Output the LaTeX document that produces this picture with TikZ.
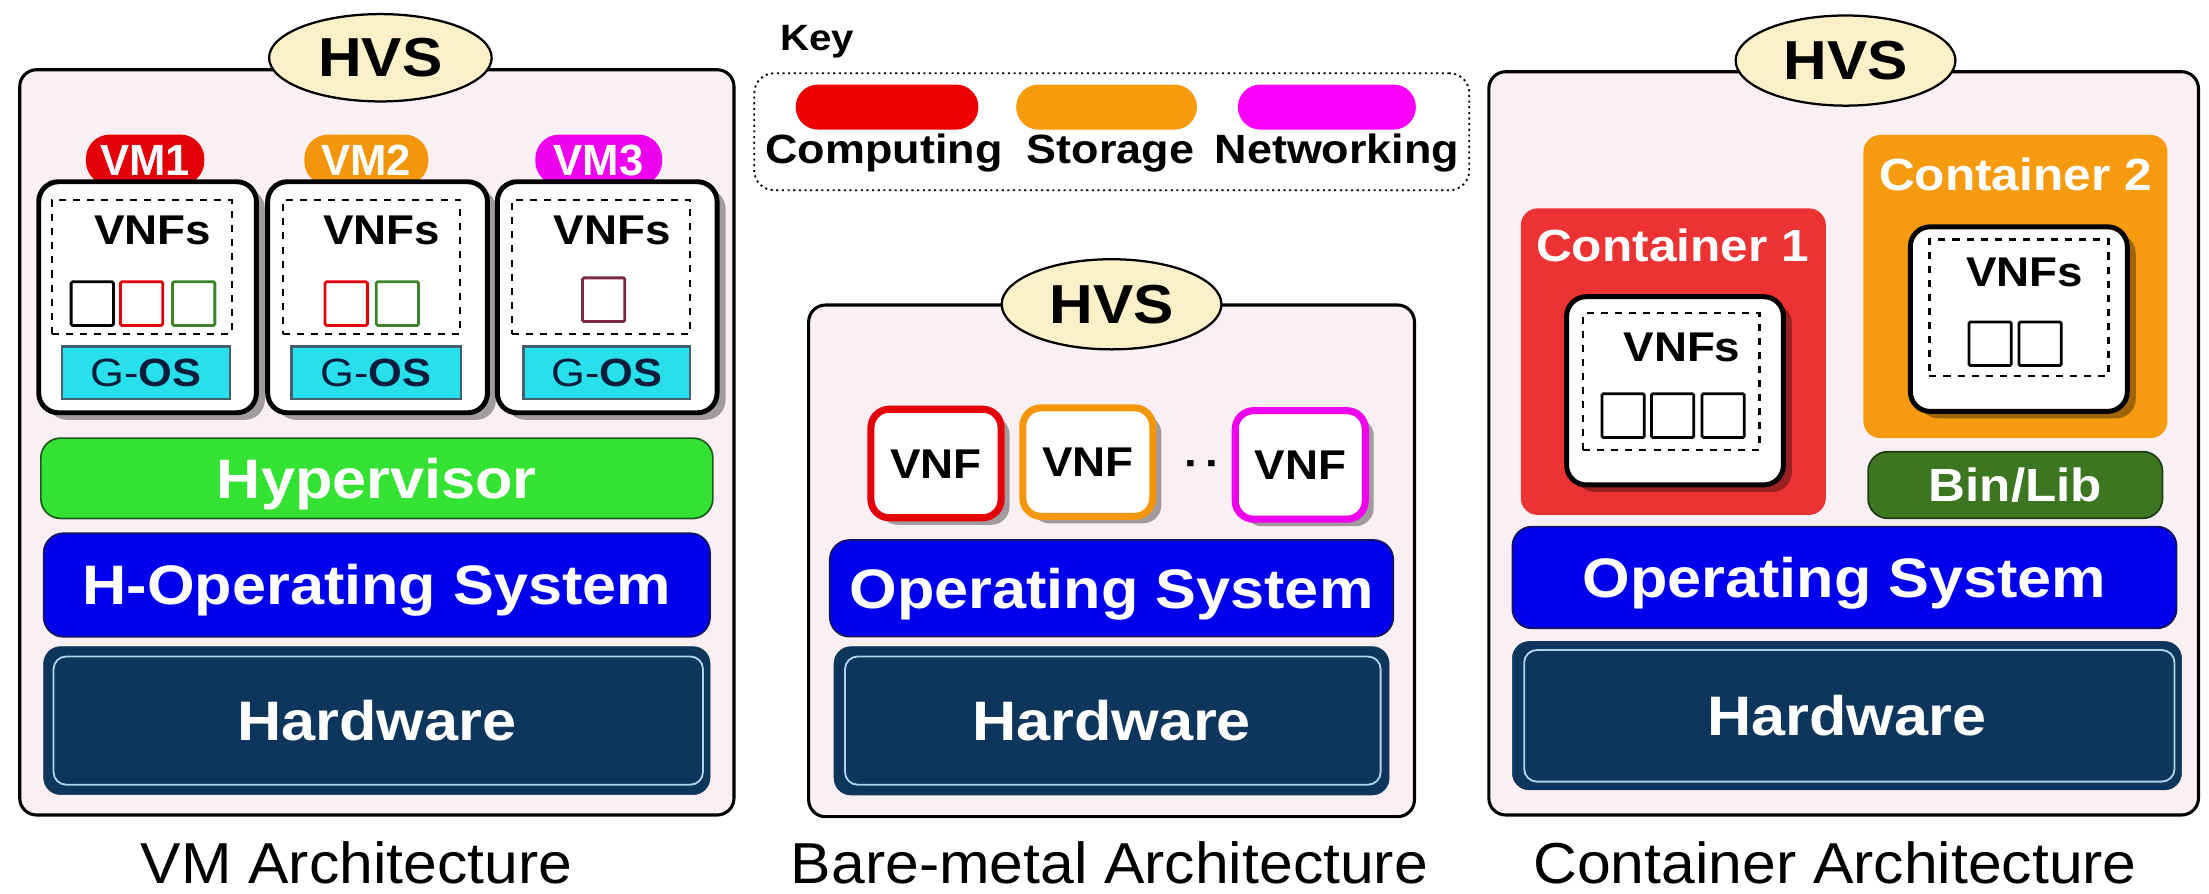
\documentclass[tikz,border=0pt]{standalone}
\usepackage{fontspec}
\setmainfont{Liberation Sans}
\newfontfamily\labfont{Liberation Sans}[FakeStretch=1.1]
\newfontfamily\capfont{Liberation Sans}[FakeStretch=1.05]
\usetikzlibrary{shapes.geometric,shadows}

\definecolor{panelpink}{RGB}{250,239,243}
\definecolor{cream}{RGB}{252,240,200}
\definecolor{vmred}{RGB}{228,0,8}
\definecolor{vmorange}{RGB}{244,150,12}
\definecolor{vmmagenta}{RGB}{238,0,238}
\definecolor{keyred}{RGB}{236,0,0}
\definecolor{keyorange}{RGB}{247,155,12}
\definecolor{keymagenta}{RGB}{250,0,250}
\definecolor{hypgreen}{RGB}{52,226,52}
\definecolor{hypedge}{RGB}{30,90,30}
\definecolor{osblue}{RGB}{0,0,236}
\definecolor{osedge}{RGB}{20,20,90}
\definecolor{hwnavy}{RGB}{14,54,92}
\definecolor{hwline}{RGB}{175,212,236}
\definecolor{goscyan}{RGB}{40,224,236}
\definecolor{gosedge}{RGB}{70,95,110}
\definecolor{gostext}{RGB}{10,30,60}
\definecolor{sqgreen}{RGB}{60,130,40}
\definecolor{sqmaroon}{RGB}{120,40,70}
\definecolor{conred}{RGB}{236,50,50}
\definecolor{conorange}{RGB}{246,155,15}
\definecolor{binlib}{RGB}{60,118,32}
\definecolor{binedge}{RGB}{30,60,20}

\newcommand\fbig{\labfont\bfseries\fontsize{39.5}{40}\selectfont}
\newcommand\fhvs{\labfont\bfseries\fontsize{39}{40}\selectfont}
\newcommand\fvnf{\labfont\bfseries\fontsize{29.5}{30}\selectfont}
\newcommand\fvm{\bfseries\fontsize{31}{32}\selectfont}
\newcommand\fgos{\labfont\fontsize{28}{30}\selectfont}
\newcommand\fkey{\labfont\bfseries\fontsize{29}{30}\selectfont}
\newcommand\fcon{\labfont\bfseries\fontsize{32}{34}\selectfont}
\newcommand\fbin{\labfont\bfseries\fontsize{33}{34}\selectfont}
\newcommand\fcap{\capfont\fontsize{41}{42}\selectfont}

\tikzset{
  every node/.style={inner sep=0pt, outer sep=0pt},
  sz/.style 2 args={minimum width=#1pt, minimum height=#2pt},
  panel/.style={rectangle, draw=black, line width=2.2pt, fill=panelpink, rounded corners=12pt},
  hvs/.style={ellipse, draw=black, line width=1.6pt, fill=cream, font=\fhvs},
  pill/.style={rectangle, rounded corners=17pt, text=white, font=\fvm, text height=22.2pt, text depth=0pt},
  shade/.style={drop shadow={shadow xshift=6pt, shadow yshift=-5pt, fill=black, opacity=0.35}},
  vmbox/.style={rectangle, draw=black, line width=3.5pt, fill=white, rounded corners=14pt, shade},
  dashbox/.style={rectangle, draw=black, line width=1.6pt, dash pattern=on 5pt off 5pt},
  vnflbl/.style={font=\fvnf, anchor=base},
  sq/.style={rectangle, line width=2pt, fill=white, rounded corners=1pt, minimum width=30pt, minimum height=31pt},
  gos/.style={rectangle, draw=gosedge, line width=1.6pt, fill=goscyan, text=gostext, font=\fgos, text height=20pt, text depth=0pt},
  bar/.style={rectangle, rounded corners=14pt, line width=1.2pt, text=white, font=\fbig, text height=28.3pt, text depth=0pt},
  hw/.style={rectangle, rounded corners=12pt, fill=hwnavy, draw=hwnavy, text=white, font=\fbig, text height=28.3pt, text depth=0pt},
  hwin/.style={rectangle, rounded corners=9pt, draw=hwline, line width=1.3pt},
  capt/.style={font=\fcap, anchor=base},
  keypill/.style={rectangle, rounded corners=15.9pt, minimum height=32pt},
  keylbl/.style={font=\fkey, anchor=base},
  vnfbox/.style={rectangle, line width=5pt, fill=white, rounded corners=13pt, shade, font=\fvnf, text height=21pt, text depth=0pt},
  conbox/.style={rectangle, rounded corners=12pt},
  conlbl/.style={font=\fcon, text=white, anchor=base},
}

\begin{document}
\begin{tikzpicture}[x=1pt,y=-1pt]
\path[use as bounding box, fill=white] (0,0) rectangle (1568,634);

% ---------------- VM architecture ----------------
\node[panel, sz={507}{529}] (vmpanel) at (267.5,314) {};
\node[hvs, sz={158}{62}] (vmhvs) at (270,41) {HVS};

\node[pill, fill=vmred, sz={84}{36}] (vm1tag) at (103,113.5) {VM1};
\node[pill, fill=vmorange, sz={88}{36}] (vm2tag) at (260,113.5) {VM2};
\node[pill, fill=vmmagenta, sz={90}{36}] (vm3tag) at (425,113.5) {VM3};

\node[vmbox, sz={154.5}{164}] (vm1) at (104.75,211) {};
\node[vmbox, sz={156}{164}] (vm2) at (268,211) {};
\node[vmbox, sz={156}{164}] (vm3) at (431,211) {};

\node[dashbox, sz={127.5}{95}] (vm1dash) at (100.75,189.5) {};
\node[dashbox, sz={126}{95}] (vm2dash) at (263.7,189.5) {};
\node[dashbox, sz={126.4}{95}] (vm3dash) at (426.8,189.5) {};

\node[vnflbl] (vm1vnfs) at (108.5,173.5) {VNFs};
\node[vnflbl] (vm2vnfs) at (270.8,173.5) {VNFs};
\node[vnflbl] (vm3vnfs) at (434.5,173.5) {VNFs};

\node[sq, draw=black] (vm1sqa) at (65.5,215.5) {};
\node[sq, draw=vmred] (vm1sqb) at (100.5,215.5) {};
\node[sq, draw=sqgreen] (vm1sqc) at (137.5,215.5) {};
\node[sq, draw=vmred] (vm2sqa) at (245.75,215.5) {};
\node[sq, draw=sqgreen] (vm2sqb) at (282.1,215.5) {};
\node[sq, draw=sqmaroon] (vm3sqa) at (428.5,212.75) {};

\node[gos, sz={119}{37}] (vm1gos) at (103.5,264.5) {G-\textbf{OS}};
\node[gos, sz={120}{37}] (vm2gos) at (267,264.5) {G-\textbf{OS}};
\node[gos, sz={118.5}{37}] (vm3gos) at (430.75,264.5) {G-\textbf{OS}};

\node[bar, fill=hypgreen, draw=hypedge, sz={477}{57}] (hyp) at (267.5,339.5) {Hypervisor};
\node[bar, fill=osblue, draw=osedge, sz={473}{73.5}] (hos) at (267.5,415.25) {H-Operating System};
\node[hw, sz={473}{105}] (vmhw) at (267.5,511.5) {Hardware};
\node[hwin, sz={461}{91}] (vmhwin) at (268.5,511.5) {};

\node[capt] (vmcap) at (253,627) {VM Architecture};

% ---------------- Key ----------------
\node[font=\labfont\bfseries\fontsize{26}{27}\selectfont, anchor=base west] (keytitle) at (553.8,35.5) {Key};
\node[rectangle, draw=black, line width=1.3pt, dash pattern=on 1.5pt off 2.5pt, rounded corners=14pt, sz={507.5}{83}] (keybox) at (789.15,93.5) {};
\node[keypill, fill=keyred, minimum width=129.7pt] (keycomp) at (629.65,76) {};
\node[keypill, fill=keyorange, minimum width=128.3pt] (keystor) at (785.45,76) {};
\node[keypill, fill=keymagenta, minimum width=126.3pt] (keynet) at (941.85,76) {};
\node[keylbl] (keycomplbl) at (627.5,116) {Computing};
\node[keylbl] (keystorlbl) at (788.3,116) {Storage};
\node[keylbl] (keynetlbl) at (949,116) {Networking};

% ---------------- Bare-metal architecture ----------------
\node[panel, sz={430}{363.2}] (bmpanel) at (789,398.1) {};
\node[hvs, sz={156}{64}] (bmhvs) at (789,216) {HVS};

\node[vnfbox, draw=vmred, sz={92.4}{77}] (bmvnf1) at (664.4,329) {VNF};
\node[vnfbox, draw=vmorange, sz={92.3}{77}] (bmvnf2) at (772.15,328) {VNF};
\node[vnfbox, draw=vmmagenta, sz={92.3}{77}] (bmvnf3) at (922.95,330) {VNF};
\node[font=\fvnf, anchor=base] (bmdots) at (853.5,339) {\char"00B7\hspace{4pt}\char"00B7};

\node[bar, fill=osblue, draw=osedge, sz={400}{68.6}] (bmos) at (789,417.6) {Operating System};
\node[hw, sz={394}{105.3}] (bmhw) at (789,511.65) {Hardware};
\node[hwin, sz={380.2}{91}] (bmhwin) at (789.9,511.5) {};

\node[capt] (bmcap) at (787.5,627) {Bare-metal Architecture};

% ---------------- Container architecture ----------------
\node[panel, sz={503.7}{527.6}] (ctpanel) at (1308.65,314.7) {};
\node[hvs, sz={156}{64}] (cthvs) at (1310,43) {HVS};

\node[conbox, fill=conred, sz={216.5}{217.6}] (con1) at (1187.75,256.7) {};
\node[conlbl] (con1lbl) at (1187.2,185.7) {Container 1};
\node[vmbox, sz={153.9}{133.6}] (con1box) at (1188.95,277.4) {};
\node[dashbox, sz={125.3}{97}] (con1dash) at (1186.35,270.9) {};
\node[vnflbl] (con1vnfs) at (1193.9,256.7) {VNFs};
\node[sq, draw=black] (con1sqa) at (1152.1,295) {};
\node[sq, draw=black] (con1sqb) at (1187.25,295) {};
\node[sq, draw=black] (con1sqc) at (1223.15,295) {};

\node[conbox, fill=conorange, sz={215.8}{215.2}] (con2) at (1430.6,203.4) {};
\node[conlbl] (con2lbl) at (1430.6,134.9) {Container 2};
\node[vmbox, sz={154}{131}] (con2box) at (1433,226.5) {};
\node[dashbox, sz={127.2}{97}] (con2dash) at (1433.1,218.5) {};
\node[vnflbl] (con2vnfs) at (1437.3,203.5) {VNFs};
\node[sq, draw=black] (con2sqa) at (1412.65,244) {};
\node[sq, draw=black] (con2sqb) at (1448.1,244) {};

\node[bar, fill=binlib, draw=binedge, font=\fbin, text height=23.6pt, sz={209}{47.3}] (bin) at (1430.5,344.25) {Bin/Lib};
\node[bar, fill=osblue, draw=osedge, sz={471.5}{72.2}] (ctos) at (1309.25,409.9) {Operating System};
\node[hw, sz={475}{105.3}] (cthw) at (1311,508) {Hardware};
\node[hwin, sz={461.6}{93.4}] (cthwin) at (1312.7,508.1) {};

\node[capt] (ctcap) at (1302.6,627) {Container Architecture};
\end{tikzpicture}
\end{document}
